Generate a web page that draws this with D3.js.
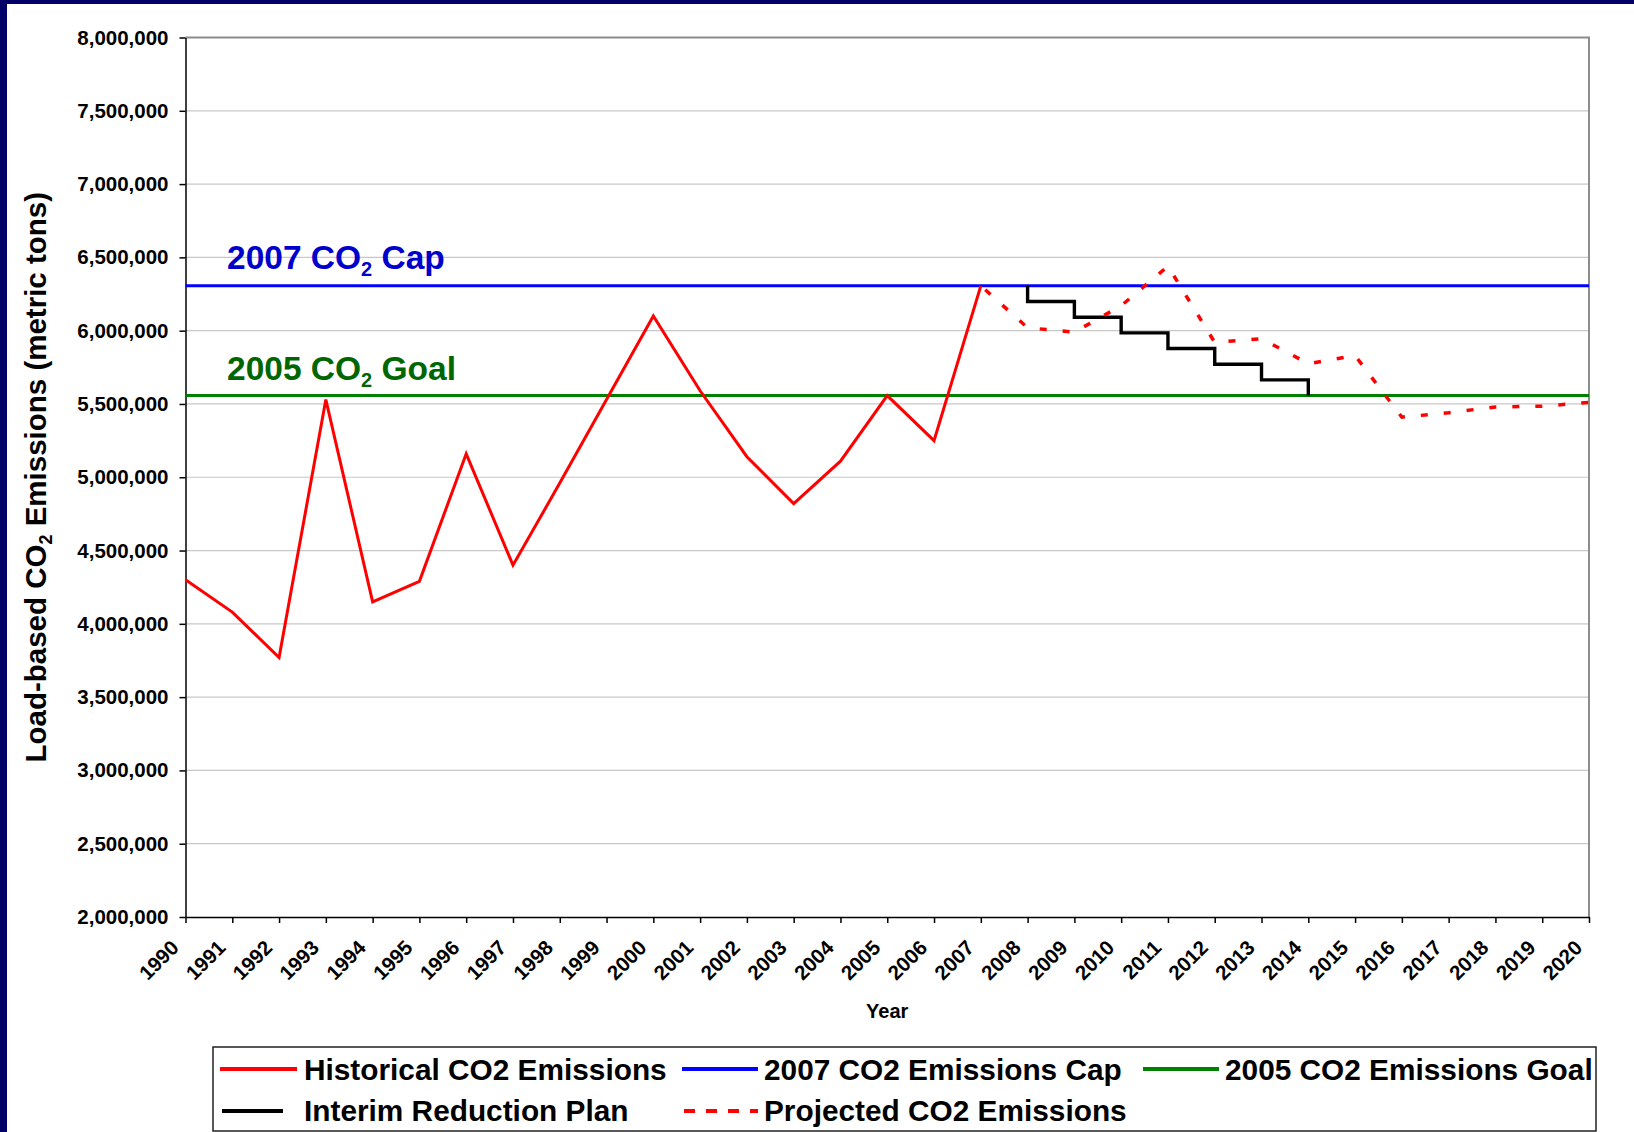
<!DOCTYPE html>
<html>
<head>
<meta charset="utf-8">
<script src="https://cdn.jsdelivr.net/npm/d3@7"></script>
<style>
  body { margin: 0; background: #fff; }
  svg { display: block; font-family: 'Liberation Sans', Arial, sans-serif; font-weight: bold; }
</style>
</head>
<body>
<svg id="chart" width="1634" height="1132"></svg>
<script>
// historical emissions 1990-2007
const histYears = d3.range(1990, 2008);
const histValues = [4300000, 4080000, 3770000, 5530000, 4150000, 4290000, 5160000, 4400000, 4960000,
  5530000, 6100000, 5590000, 5140000, 4820000, 5110000, 5557000, 5250000, 6306000];

// projected emissions 2007-2020
const projYears = d3.range(2007, 2021);
const projValues = [6306000, 6020000, 5990000, 6170000, 6440000, 5920000, 5945000, 5775000, 5830000,
  5410000, 5440000, 5480000, 5485000, 5510000];

const capValue = 6306000;
const goalValue = 5557000;

// interim plan drawn as steps, corner by corner
const interimYears = [2008, 2008, 2009, 2009, 2010, 2010, 2011, 2011, 2012, 2012, 2013, 2013, 2014, 2014];
const interimValues = [6306000, 6199000, 6199000, 6092000, 6092000, 5985000, 5985000, 5878000,
  5878000, 5771000, 5771000, 5664000, 5664000, 5557000];

const yTicks = d3.range(2000000, 8000001, 500000);
const xTicks = d3.range(1990, 2021);

const legendLabels = ['Historical CO2 Emissions', '2007 CO2 Emissions Cap', '2005 CO2 Emissions Goal',
  'Interim Reduction Plan', 'Projected CO2 Emissions'];

const svg = d3.select('#chart');
const plotLeft = 185.5, plotRight = 1589, plotTop = 37.5, plotBottom = 917;

const xScale = d3.scaleLinear().domain([1990, 2020]).range([plotLeft, plotRight]);
const yScale = d3.scaleLinear().domain([2000000, 8000000]).range([plotBottom, plotTop]);

// navy slide frame
svg.append('rect').attr('x', 0).attr('y', 0).attr('width', 7).attr('height', 1132).attr('fill', '#000066');
svg.append('rect').attr('x', 0).attr('y', 0).attr('width', 1634).attr('height', 4).attr('fill', '#000066');

// gridlines
svg.append('g')
  .selectAll('line')
  .data(yTicks.slice(1, -1))
  .join('line')
  .attr('x1', plotLeft).attr('x2', plotRight)
  .attr('y1', d => yScale(d)).attr('y2', d => yScale(d))
  .attr('stroke', '#c8c8c8').attr('stroke-width', 1.2);

// plot border top / right
svg.append('path')
  .attr('d', `M${plotLeft},${yScale(8000000)}H${plotRight}V${plotBottom}`)
  .attr('fill', 'none').attr('stroke', '#8c8c8c').attr('stroke-width', 2);

const yAxis = svg.append('g')
  .attr('transform', `translate(${plotLeft},0)`)
  .call(d3.axisLeft(yScale).tickValues(yTicks).tickFormat(d3.format(',')).tickSize(6).tickSizeOuter(0).tickPadding(11));
yAxis.selectAll('text').attr('font-size', '20.5px').attr('font-family', null).attr('fill', '#000');
yAxis.selectAll('line, path').attr('stroke', '#000').attr('stroke-width', 1.5);

const xAxis = svg.append('g')
  .attr('transform', `translate(0,${plotBottom})`)
  .call(d3.axisBottom(xScale).tickValues(xTicks).tickFormat(d3.format('d')).tickSize(6).tickSizeOuter(0));
xAxis.selectAll('line, path').attr('stroke', '#000').attr('stroke-width', 1.5);
xAxis.selectAll('text')
  .attr('font-size', '20.5px').attr('font-family', null).attr('fill', '#000')
  .attr('text-anchor', 'end')
  .attr('y', 0).attr('dy', 0)
  .attr('transform', 'translate(-6,32) rotate(-45)');

svg.append('text')
  .attr('x', (plotLeft + plotRight) / 2).attr('y', 1018)
  .attr('text-anchor', 'middle').attr('font-size', '20px')
  .text('Year');

// y title with subscript
const yTitle = svg.append('text')
  .attr('transform', `translate(46,${(plotTop + plotBottom) / 2}) rotate(-90)`)
  .attr('text-anchor', 'middle').attr('font-size', '29.5px');
yTitle.append('tspan').text('Load-based CO');
yTitle.append('tspan').attr('font-size', '18px').attr('dy', 6).text('2');
yTitle.append('tspan').attr('dy', -6).text(' Emissions (metric tons)');

const line = d3.line().x(d => xScale(d[0])).y(d => yScale(d[1]));

// reference lines
svg.append('line')
  .attr('x1', plotLeft).attr('x2', plotRight)
  .attr('y1', yScale(capValue)).attr('y2', yScale(capValue))
  .attr('stroke', '#0000ff').attr('stroke-width', 3);
svg.append('line')
  .attr('x1', plotLeft).attr('x2', plotRight)
  .attr('y1', yScale(goalValue)).attr('y2', yScale(goalValue))
  .attr('stroke', '#008000').attr('stroke-width', 3);

svg.append('path')
  .attr('d', line(d3.zip(interimYears, interimValues)))
  .attr('fill', 'none').attr('stroke', '#000').attr('stroke-width', 3.4);

svg.append('path')
  .attr('d', line(d3.zip(projYears, projValues)))
  .attr('fill', 'none').attr('stroke', '#ff0000').attr('stroke-width', 3.5)
  .attr('stroke-dasharray', '7,16').attr('stroke-dashoffset', -6);

svg.append('path')
  .attr('d', line(d3.zip(histYears, histValues)))
  .attr('fill', 'none').attr('stroke', '#ff0000').attr('stroke-width', 3)
  .attr('stroke-linejoin', 'miter');

// annotations
const notes = [
  {year: '2007', name: ' Cap', color: '#0000cc', baseY: 269},
  {year: '2005', name: ' Goal', color: '#006600', baseY: 380}
];
notes.forEach(n => {
  const t = svg.append('text')
    .attr('x', 227).attr('y', n.baseY)
    .attr('font-size', '33.5px').attr('fill', n.color);
  t.append('tspan').text(`${n.year} CO`);
  t.append('tspan').attr('font-size', '20px').attr('dy', 7).text('2');
  t.append('tspan').attr('dy', -7).text(n.name);
});

// legend
svg.append('rect')
  .attr('x', 213).attr('y', 1047).attr('width', 1383).attr('height', 84)
  .attr('fill', '#fff').attr('stroke', '#222').attr('stroke-width', 1.5);

const legendItems = [
  {color: '#ff0000', dash: null, x1: 220, x2: 297, tx: 304, row: 0},
  {color: '#0000ff', dash: null, x1: 682, x2: 758, tx: 764, row: 0},
  {color: '#008000', dash: null, x1: 1143, x2: 1219, tx: 1225, row: 0},
  {color: '#000', dash: null, x1: 222, x2: 283, tx: 304, row: 1},
  {color: '#ff0000', dash: '11,11', x1: 684, x2: 758, tx: 764, row: 1}
];
const rowLineY = [1069, 1111];
const rowTextY = [1080, 1121];

const entries = svg.append('g')
  .selectAll('g')
  .data(legendItems)
  .join('g');
entries.append('line')
  .attr('x1', d => d.x1).attr('x2', d => d.x2)
  .attr('y1', d => rowLineY[d.row]).attr('y2', d => rowLineY[d.row])
  .attr('stroke', d => d.color).attr('stroke-width', 4)
  .attr('stroke-dasharray', d => d.dash);
entries.append('text')
  .attr('x', d => d.tx).attr('y', d => rowTextY[d.row])
  .attr('font-size', '29.8px')
  .text((d, i) => legendLabels[i]);
</script>
</body>
</html>
